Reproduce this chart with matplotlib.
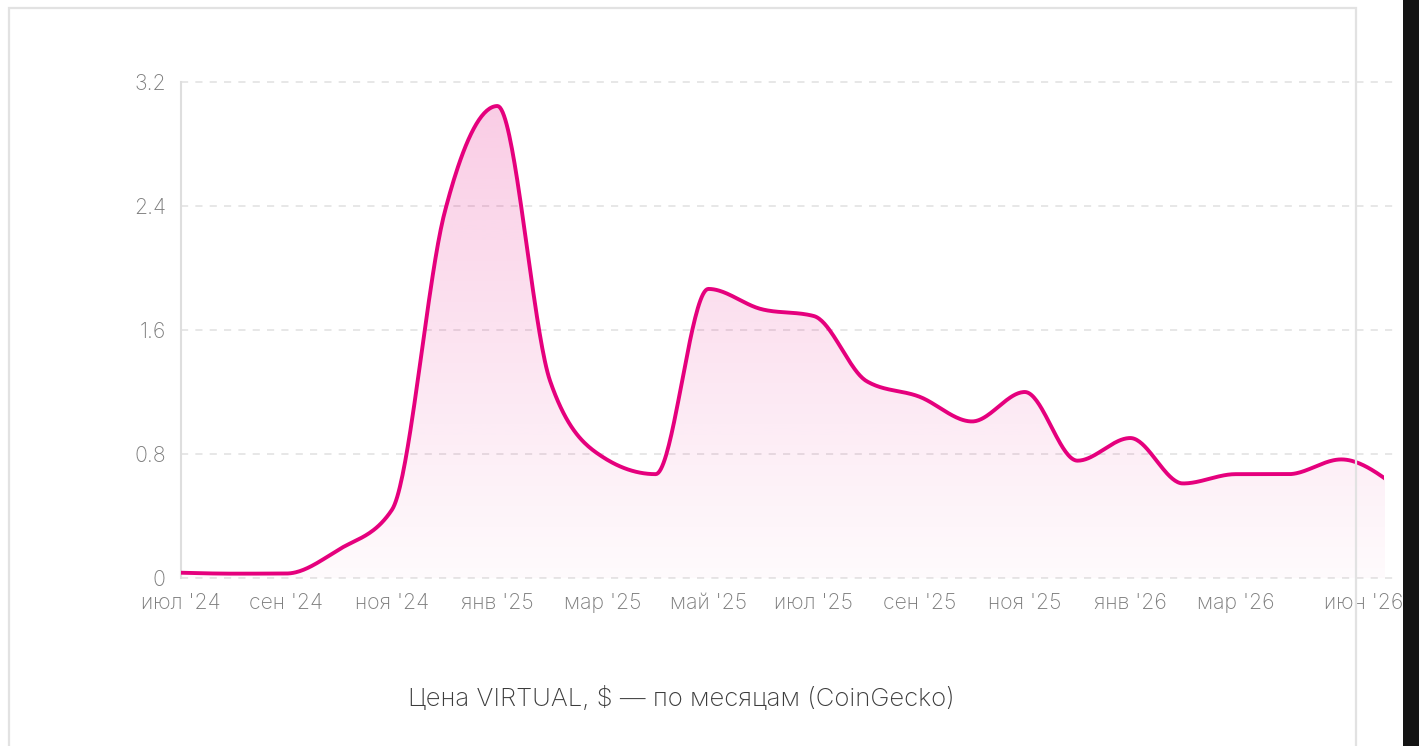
import matplotlib
matplotlib.use("Agg")
import matplotlib.pyplot as plt
import matplotlib.transforms as mtransforms
from matplotlib.patches import Rectangle
import numpy as np

plt.rcParams['font.family'] = ['Inter', 'DejaVu Sans']

# monthly VIRTUAL price, Jul '24 .. Jun '26
months = ["июл '24", "авг '24", "сен '24", "окт '24", "ноя '24", "дек '24",
          "янв '25", "фев '25", "мар '25", "апр '25", "май '25", "июн '25",
          "июл '25", "авг '25", "сен '25", "окт '25", "ноя '25", "дек '25",
          "янв '26", "фев '26", "мар '26", "апр '26", "май '26", "июн '26"]
price = [0.034, 0.028, 0.029, 0.185, 0.44, 2.36, 3.045, 1.27, 0.78, 0.67,
         1.865, 1.735, 1.69, 1.27, 1.17, 1.01, 1.2, 0.757, 0.903, 0.61,
         0.67, 0.67, 0.765, 0.6]
shown_ticks = [0, 2, 4, 6, 8, 10, 12, 14, 16, 18, 20, 23]
y_ticks = [0, 0.8, 1.6, 2.4, 3.2]

W, H = 1419, 746
LINE = '#E5007D'
CUT = 22.82  # rendered series stops a bit before the last point


def monotone_x(y, n=40):
    # same curve as d3.curveMonotoneX on evenly spaced points
    y = np.asarray(y, float)
    s = np.diff(y)
    t = np.zeros_like(y)
    for i in range(1, len(y) - 1):
        s0, s1 = s[i - 1], s[i]
        p = (s0 + s1) / 2
        t[i] = (np.sign(s0) + np.sign(s1)) * min(abs(s0), abs(s1), 0.5 * abs(p))
    t[0] = (3 * s[0] - t[1]) / 2
    t[-1] = (3 * s[-1] - t[-2]) / 2
    xs, ys = [], []
    u = np.linspace(0, 1, n, endpoint=False)
    for i in range(len(y) - 1):
        h00 = 2 * u**3 - 3 * u**2 + 1
        h10 = u**3 - 2 * u**2 + u
        h01 = -2 * u**3 + 3 * u**2
        h11 = u**3 - u**2
        xs.append(i + u)
        ys.append(h00 * y[i] + h10 * t[i] + h01 * y[i + 1] + h11 * t[i + 1])
    xs.append([len(y) - 1])
    ys.append([y[-1]])
    return np.concatenate(xs), np.concatenate(ys)


fig = plt.figure(figsize=(W / 100, H / 100), dpi=100)
fig.patch.set_facecolor('white')
ax = fig.add_axes([181 / W, 1 - 578 / H, (1395 - 181) / W, (578 - 82) / H])

cx, cy = monotone_x(price)

ax.set_xlim(0, len(price) - 1 + 0.02)
ax.set_ylim(0, 3.2)

clip = Rectangle((0, 0), CUT, 3.2, transform=ax.transData)

# gradient fill under the line
top = max(price)
rgba = np.zeros((256, 1, 4))
rgba[..., 0] = 229 / 255
rgba[..., 2] = 125 / 255
rgba[:, 0, 3] = np.linspace(0.02, 0.2, 256)
poly = ax.fill_between(cx, cy, 0, color='none', lw=0)
img = ax.imshow(rgba, extent=[0, CUT, 0, top], origin='lower',
                aspect='auto', zorder=1, interpolation='bilinear')
img.set_clip_path(poly.get_paths()[0], transform=ax.transData)

ln, = ax.plot(cx, cy, color=LINE, lw=2.8, zorder=3, solid_capstyle='butt')
ln.set_clip_path(clip)

# grid / axes
ax.set_yticks(y_ticks)
ax.set_yticklabels(['0', '0.8', '1.6', '2.4', '3.2'])
ax.yaxis.grid(True, color='#e3e3e3', lw=1.2, linestyle=(0, (4.3, 4.3)))
ax.set_axisbelow(True)
for sp in ['top', 'right', 'bottom']:
    ax.spines[sp].set_visible(False)
ax.spines['left'].set_color('#dedede')
ax.spines['left'].set_linewidth(1.5)

ax.set_xticks(shown_ticks)
ax.set_xticklabels([months[i] for i in shown_ticks])
ax.tick_params(axis='both', length=0, labelsize=15.3, colors='#7c7c7c')
ax.tick_params(axis='y', pad=11)
ax.tick_params(axis='x', pad=11)
for lab in ax.get_xticklabels() + ax.get_yticklabels():
    lab.set_fontweight('light')
for g in ax.get_ygridlines():
    g.set_clip_on(False)

last = ax.get_xticklabels()[-1]
last.set_horizontalalignment('right')
last.set_transform(last.get_transform() +
                   mtransforms.ScaledTranslation(9 / 100, 0, fig.dpi_scale_trans))

ax.set_facecolor('none')

fig.text(681 / W, 1 - 698 / H, 'Цена VIRTUAL, $ — по месяцам (CoinGecko)',
         ha='center', va='center', fontsize=18.5, color='#3c3c3c', fontweight='light')

# card border and dark strip at the right edge
card = Rectangle((9 / W, -0.05), (1356 - 9) / W, 1.05 - 8 / H, transform=fig.transFigure,
                 fill=False, edgecolor='#e2e2e2', lw=1.6, zorder=10)
fig.add_artist(card)
strip = Rectangle((1403 / W, 0), 1 - 1403 / W, 1, transform=fig.transFigure,
                  facecolor='#141414', edgecolor='none', zorder=11)
fig.add_artist(strip)

fig.savefig('out.png', dpi=100)
